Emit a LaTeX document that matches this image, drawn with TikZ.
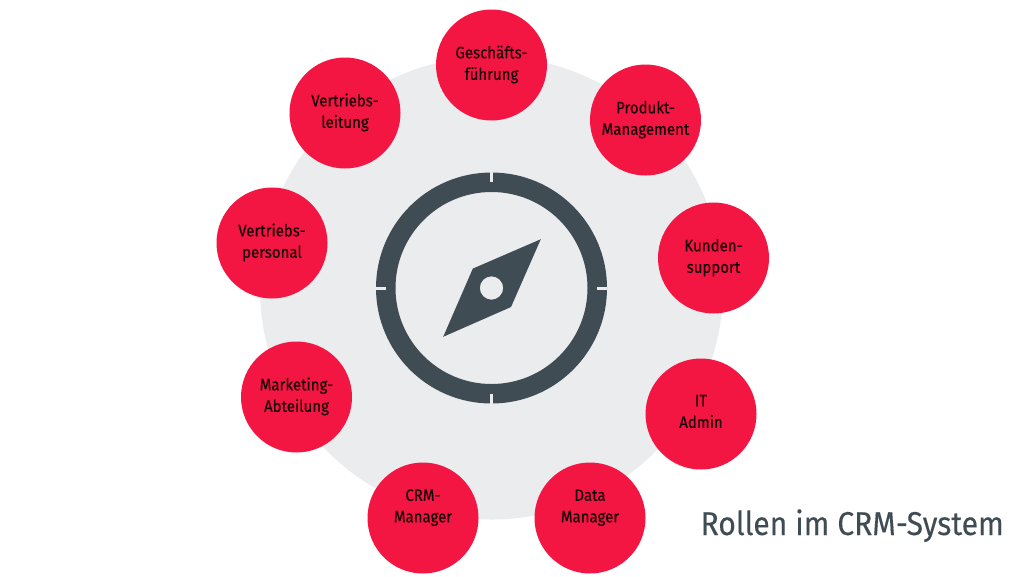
\documentclass[tikz,border=0pt]{standalone}
\usepackage{fontspec}
\setmainfont{Fira Sans}[FakeStretch=0.91,FakeBold=0.25]
\definecolor{crimson}{HTML}{F31542}
\definecolor{slate}{HTML}{404C53}
\definecolor{pale}{HTML}{EBECEE}
\newcommand{\rl}[2]{\raisebox{\dimexpr#1-4.1pt\relax}[0pt][0pt]{\begin{tabular}{@{}c@{}}#2\end{tabular}}}
\tikzset{
  role/.style={circle,fill=crimson,draw=none,minimum size=111pt,inner sep=0pt,
    font=\fontsize{16.5}{21.5}\selectfont,text=black!90!crimson},
  tick/.style={draw=pale,line width=3pt}
}
\begin{document}
\begin{tikzpicture}[x=1pt,y=-1pt]
\useasboundingbox (0,0) rectangle (1024,576);
\fill[white] (0,0) rectangle (1024,576);
\coordinate (c) at (491.5,288);
\fill[pale] (c) circle[radius=231.5];
\fill[slate,even odd rule] (c) circle[radius=115.5] (c) circle[radius=96];
\draw[tick] (491.5,172) -- (491.5,182);
\draw[tick] (491.5,394) -- (491.5,404);
\draw[tick] (376,288) -- (386,288);
\draw[tick] (597,288) -- (607,288);
\fill[slate,even odd rule] (540.8,239.2) -- (511,307) -- (443.2,336.8) -- (472.8,268.6) -- cycle (c) circle[radius=11.7];
\node[role] (a) at (491.5,65) {\rl{0pt}{Geschäfts-\\führung}};
\node[role] (b) at (645.5,120) {\rl{0pt}{Produkt-\\Management}};
\node[role] (d) at (713.5,258) {\rl{0pt}{Kunden-\\support}};
\node[role] (e) at (701,414) {\rl{1pt}{IT\\Admin}};
\node[role] (f) at (590,518) {\rl{10.5pt}{Data\\Manager}};
\node[role] (g) at (423,518) {\rl{10.5pt}{CRM-\\Manager}};
\node[role] (h) at (296.5,397) {\rl{0pt}{Marketing-\\Abteilung}};
\node[role] (i) at (272,243) {\rl{0pt}{Vertriebs-\\personal}};
\node[role] (j) at (345,113) {\rl{0pt}{Vertriebs-\\leitung}};
\node[anchor=base east,inner sep=0pt,text=slate,font=\fontsize{33}{36}\selectfont] (t) at (1004,535) {Rollen im CRM-System};
\end{tikzpicture}
\end{document}
